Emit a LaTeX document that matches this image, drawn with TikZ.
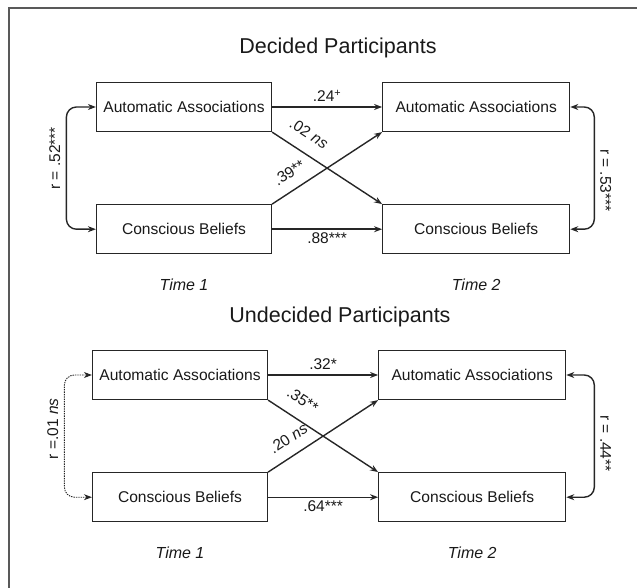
\documentclass[tikz,border=0pt]{standalone}
\usepackage{fontspec}
\setmainfont{Liberation Sans}
\usepackage{tikz}
\usetikzlibrary{arrows.meta,positioning,calc}

\begin{document}
\begin{tikzpicture}[
    x=1pt, y=-1pt,
    node distance=72pt and 110pt,
    title/.style={font=\fontsize{21.5}{24}\selectfont, text=black!90},
    varbox/.style={rectangle, draw=black!85, line width=1.2pt, minimum height=49pt, inner sep=0pt, text=black!90, font=\fontsize{15.6}{18}\selectfont},
    leftbox/.style={varbox, minimum width=175pt},
    rightbox/.style={varbox, minimum width=187pt},
    coef/.style={font=\fontsize{15.5}{17}\selectfont, inner sep=2pt, text=black!90},
    timelabel/.style={font=\fontsize{16}{18}\selectfont\itshape, text=black!90},
    leftr/.style={coef, rotate=90, anchor=south, outer sep=4pt},
    rightr/.style={coef, rotate=-90, anchor=south, outer sep=4pt},
    arrow/.style={-{Stealth[length=8pt,width=6pt]}, line width=1.4pt, draw=black!85},
    corr/.style={{Stealth[length=8pt,width=6pt]}-{Stealth[length=8pt,width=6pt]}, line width=1.4pt, draw=black!85, rounded corners=10pt},
    frame/.style={draw=black!65, line width=1.8pt}
]
\useasboundingbox (0,0) rectangle (637,588);
\draw[frame] (637,8) -- (9,8) -- (9,588);

% decided
\node[title] (title1) at (338,48) {Decided Participants};
\node[leftbox] (aa1) at (184,107) {Automatic Associations};
\node[leftbox, below=of aa1] (cb1) {Conscious Beliefs};
\node[rightbox, right=of aa1] (aa2) {Automatic Associations};
\node[rightbox, right=of cb1] (cb2) {Conscious Beliefs};
\node[timelabel, below=21pt of cb1] (time1) {Time 1};
\node[timelabel, below=21pt of cb2] (time2) {Time 2};

\draw[arrow] (aa1) -- node[coef, above=3pt] {.24\textsuperscript{+}} (aa2);
\draw[arrow] (cb1) -- node[coef, below=1pt] {.88***} (cb2);
\draw[arrow] (aa1.south east) -- node[coef, sloped, above=11pt, pos=0.24] {.02 \textit{ns}} (cb2.north west);
\draw[arrow] (cb1.north east) -- node[coef, sloped, above=9pt, pos=0.24] {.39**} (aa2.south west);
\draw[corr] (cb1.west) -- ++(-29.5,0) |- node[leftr, pos=0.29] {r = .52***} (aa1.west);
\draw[corr] (aa2.east) -- ++(24,0) |- node[rightr, pos=0.3] {r = .53***} (cb2.east);

% undecided
\node[title] (title2) at (340,317) {Undecided Participants};
\node[leftbox] (aa3) at (180,375) {Automatic Associations};
\node[leftbox, below=of aa3] (cb3) {Conscious Beliefs};
\node[rightbox, right=of aa3] (aa4) {Automatic Associations};
\node[rightbox, right=of cb3] (cb4) {Conscious Beliefs};
\node[timelabel, below=21pt of cb3] (time3) {Time 1};
\node[timelabel, below=21pt of cb4] (time4) {Time 2};

\draw[arrow] (aa3) -- node[coef, above=3pt] {.32*} (aa4);
\draw[arrow] (cb3) -- node[coef, below=1pt] {.64***} (cb4);
\draw[arrow] (aa3.south east) -- node[coef, sloped, above=11pt, pos=0.22] {.35**} (cb4.north west);
\draw[arrow] (cb3.north east) -- node[coef, sloped, above=9pt, pos=0.27] {.20 \textit{ns}} (aa4.south west);
\draw[corr, densely dotted, line width=0.9pt] (cb3.west) -- ++(-27.5,0) |- node[leftr, pos=0.28] {r =.01 \textit{ns}} (aa3.west);
\draw[corr] (aa4.east) -- ++(28,0) |- node[rightr, pos=0.28] {r = .44**} (cb4.east);

\end{tikzpicture}
\end{document}
